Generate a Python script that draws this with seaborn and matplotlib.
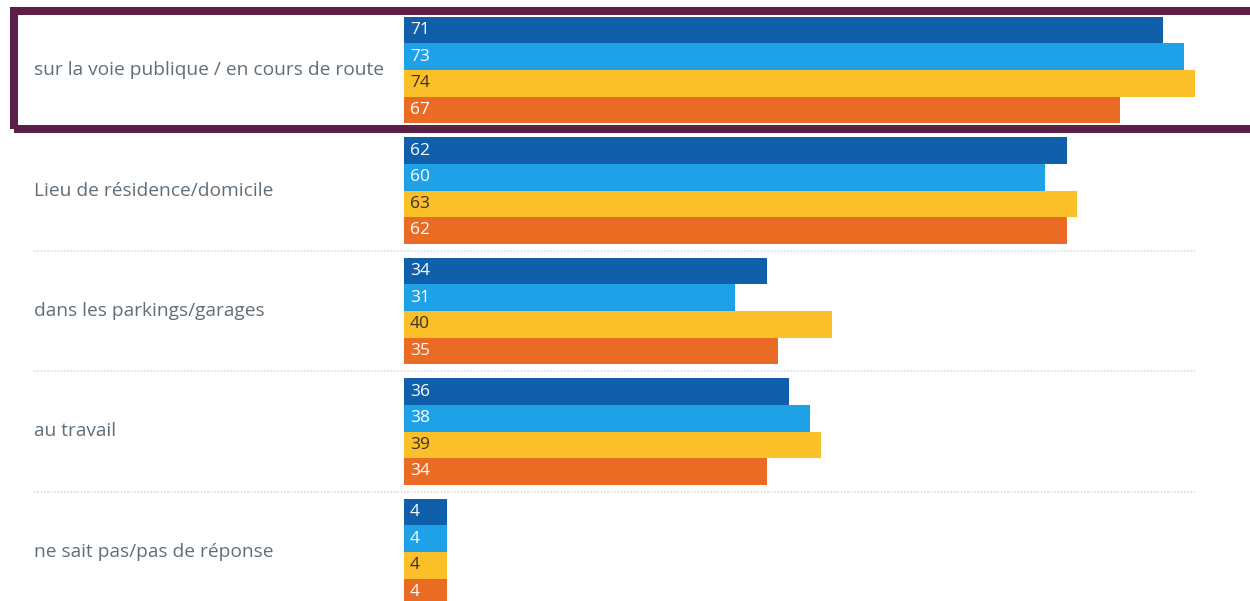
import pandas as pd
import matplotlib
matplotlib.use("Agg")
import matplotlib.pyplot as plt
import matplotlib.transforms as mtransforms
from matplotlib.patches import Rectangle
import seaborn as sns

# data
lieux = ["sur la voie publique / en cours de route",
         "Lieu de résidence/domicile",
         "dans les parkings/garages",
         "au travail",
         "ne sait pas/pas de réponse"]
series = ["Série 1", "Série 2", "Série 3", "Série 4"]
serie1 = [71, 62, 34, 36, 4]
serie2 = [73, 60, 31, 38, 4]
serie3 = [74, 63, 40, 39, 4]
serie4 = [67, 62, 35, 34, 4]

couleurs = ["#0f5fab", "#1fa1e8", "#fbbf2a", "#e96b24"]
couleurs_texte = ["white", "white", "#3a3320", "white"]

rows = []
for s, vals in zip(series, [serie1, serie2, serie3, serie4]):
    for lieu, v in zip(lieux, vals):
        rows.append({"lieu": lieu, "serie": s, "valeur": v})
df = pd.DataFrame(rows)

sns.set_style("white")
plt.rcParams["font.family"] = ["Open Sans", "DejaVu Sans"]

fig = plt.figure(figsize=(12.5, 6.01), dpi=100)
ax = fig.add_axes([0, 0, 1, 1])

sns.barplot(data=df, y="lieu", x="valeur", hue="serie", order=lieux,
            hue_order=series, palette=couleurs, orient="h", width=0.88,
            dodge=True, legend=False, ax=ax, saturation=1, linewidth=0)

# pixel mapping: x=0 at 404px, 74 at 1195px ; group centres 70px + 120.5px
px_unit = (1195 - 404) / 74
ax.set_xlim(-404 / px_unit, (1250 - 404) / px_unit)
ax.set_ylim((601 - 70) / 120.5, -70 / 120.5)
ax.axis("off")

# value labels inside bars
for i, cont in enumerate(ax.containers):
    for bar, v in zip(cont, [serie1, serie2, serie3, serie4][i]):
        yc = bar.get_y() + bar.get_height() / 2
        ax.text(0.55, yc, str(v), va="center", ha="left", fontsize=12.5,
                color=couleurs_texte[i])

# category labels on the left
trans = mtransforms.blended_transform_factory(ax.transAxes, ax.transData)
for k, lieu in enumerate(lieux):
    ax.text(34 / 1250, k, lieu, transform=trans, va="center", ha="left",
            fontsize=13.8, color="#5f6e78")

# dotted separators between groups
for k in range(len(lieux) - 1):
    ax.axhline(k + 0.5, xmin=34 / 1250, xmax=1195 / 1250, color="#dcdcdc",
               lw=1.2, ls=(0, (1, 1)), zorder=0)

# highlight box around the first group
fig.add_artist(Rectangle((14 / 1250, 1 - 129 / 601), 1.0, (129 - 11.5) / 601,
                         transform=fig.transFigure, fill=False,
                         edgecolor="#5a2046", lw=5.8, clip_on=False))

fig.savefig("out.png", dpi=100)
